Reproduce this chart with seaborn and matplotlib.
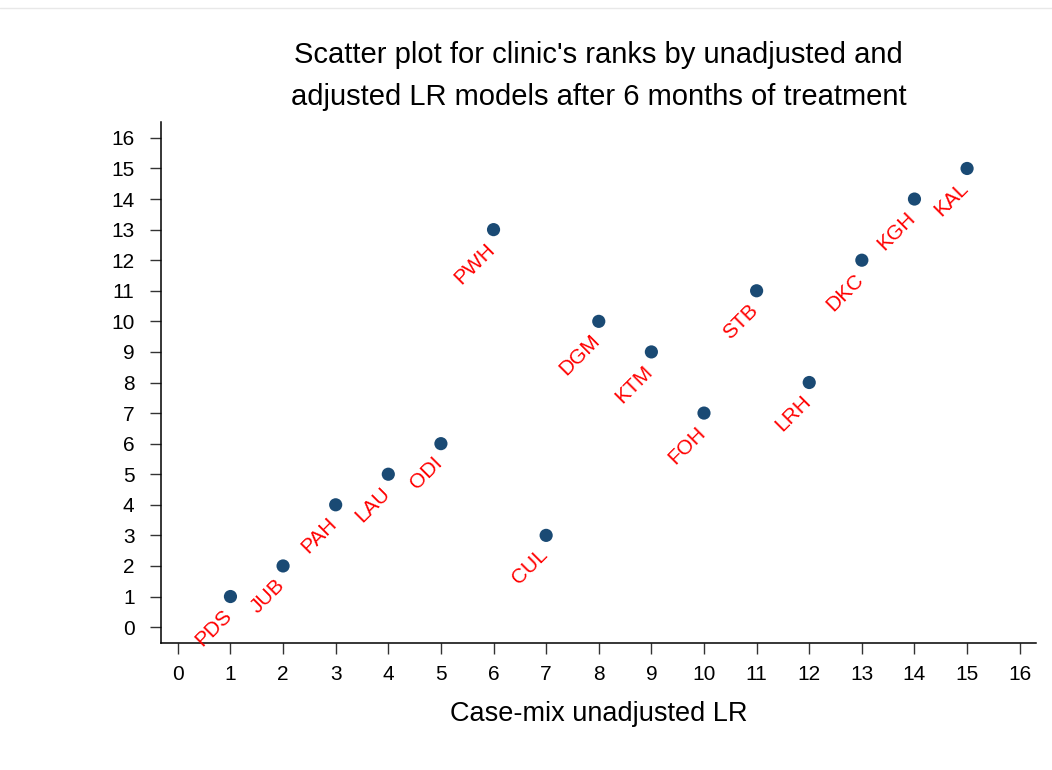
import matplotlib
matplotlib.use("Agg")
import matplotlib.pyplot as plt
from matplotlib.lines import Line2D
import seaborn as sns
import pandas as pd

# Clinic ranks under the two logistic-regression models
clinics = ["PDS", "JUB", "PAH", "LAU", "ODI", "PWH", "CUL", "DGM",
           "KTM", "FOH", "STB", "LRH", "DKC", "KGH", "KAL"]
unadjusted_rank = [1, 2, 3, 4, 5, 6, 7, 8, 9, 10, 11, 12, 13, 14, 15]
adjusted_rank = [1, 2, 4, 5, 6, 13, 3, 10, 9, 7, 11, 8, 12, 14, 15]
tick_values = list(range(0, 17))

df = pd.DataFrame({"clinic": clinics,
                   "unadjusted": unadjusted_rank,
                   "adjusted": adjusted_rank})

sns.set_theme(style="white")
plt.rcParams["font.family"] = ["Liberation Sans", "DejaVu Sans"]

fig = plt.figure(figsize=(10.52, 7.70), dpi=100)
ax = fig.add_axes([161 / 1052, 1 - 643 / 770, (1036 - 161) / 1052, (643 - 122) / 770])

sns.scatterplot(data=df, x="unadjusted", y="adjusted", ax=ax,
                color="#1a4a74", s=90, edgecolor="none", zorder=3)

for name, xv, yv in zip(df["clinic"], df["unadjusted"], df["adjusted"]):
    ax.annotate(name, (xv, yv), xytext=(-6, -7), textcoords="offset points",
                ha="right", va="top", rotation=45, rotation_mode="anchor",
                color="#ff0000", fontsize=15)

ax.set_xlim(-0.32, 16.31)
ax.set_ylim(-0.52, 16.52)
ax.set_xticks(tick_values)
ax.set_yticks(tick_values)
ax.tick_params(axis="both", which="major", direction="out", length=8,
               width=1, color="#333333", labelsize=15,
               bottom=True, left=True, labelcolor="#000000")
ax.tick_params(axis="x", pad=8)
ax.tick_params(axis="y", pad=11)

for side in ["top", "right"]:
    ax.spines[side].set_visible(False)
for side in ["left", "bottom"]:
    ax.spines[side].set_color("#000000")
    ax.spines[side].set_linewidth(1.1)

ax.set_xlabel("Case-mix unadjusted LR", fontsize=19.5, labelpad=12, color="#000000")
ax.set_ylabel("")
ax.set_title("Scatter plot for clinic's ranks by unadjusted and\n"
             "adjusted LR models after 6 months of treatment",
             fontsize=21, linespacing=1.65, pad=12, color="#000000")

# thin rule along the top edge
fig.add_artist(Line2D([0, 1], [1 - 8 / 770, 1 - 8 / 770],
                      transform=fig.transFigure, color="#e8e8e8", lw=1))

fig.savefig("out.png", dpi=100, facecolor="white")
